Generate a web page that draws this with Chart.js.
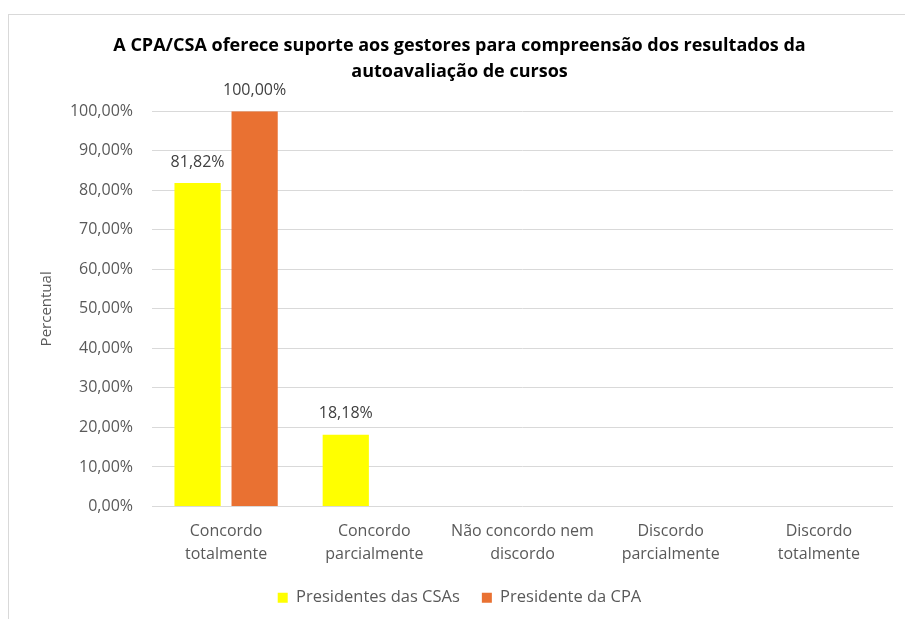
<!DOCTYPE html>
<html>
<head>
<meta charset="utf-8">
<script src="https://cdn.jsdelivr.net/npm/chart.js@4/dist/chart.umd.min.js"></script>
<style>
    body { margin: 0; background: #fff; }
    #frame { position: absolute; left: 8px; top: 14px; width: 1000px; height: 1000px; border: 1px solid #d9d9d9; }
    #wrap { position: absolute; left: 0; top: 0; width: 905px; height: 619px; }
</style>
</head>
<body>
<div id="frame"></div>
<div id="wrap"><canvas id="chart"></canvas></div>
<script>
var categories = [
    ["Concordo", "totalmente"],
    ["Concordo", "parcialmente"],
    ["Não concordo nem", "discordo"],
    ["Discordo", "parcialmente"],
    ["Discordo", "totalmente"]
];
var presidentesCSAs = [81.82, 18.18, 0, 0, 0];
var presidenteCPA = [100, 0, 0, 0, 0];
var seriesNames = ["Presidentes das CSAs", "Presidente da CPA"];
var titleLines = ["A CPA/CSA oferece suporte aos gestores para compreensão dos resultados da", "autoavaliação de cursos"];

var FONT = "'Open Sans', 'Liberation Sans', sans-serif";
var GREY = "#595959";

function pct(v) {
    return v.toFixed(2).replace(".", ",") + "%";
}

// labels above the bars, skipping zeros
var barLabels = {
    id: "barLabels",
    afterDatasetsDraw: function(chart) {
        var ctx = chart.ctx;
        ctx.save();
        ctx.font = "16px " + FONT;
        ctx.fillStyle = "#404040";
        ctx.textAlign = "center";
        ctx.textBaseline = "middle";
        chart.data.datasets.forEach(function(ds, i) {
            chart.getDatasetMeta(i).data.forEach(function(bar, j) {
                if (!ds.data[j]) return;
                ctx.fillText(pct(ds.data[j]), bar.x, bar.y - 21);
            });
        });
        ctx.restore();
    }
};

new Chart(document.getElementById("chart"), {
    type: "bar",
    data: {
        labels: categories,
        datasets: [
            { label: seriesNames[0], data: presidentesCSAs, backgroundColor: "#FFFF00" },
            { label: seriesNames[1], data: presidenteCPA, backgroundColor: "#E97132" }
        ]
    },
    options: {
        responsive: true,
        maintainAspectRatio: false,
        animation: false,
        categoryPercentage: 0.77,
        barPercentage: 0.81,
        layout: { padding: { top: 0, right: 12, bottom: 3, left: 26 } },
        plugins: {
            title: {
                display: true,
                text: titleLines,
                color: "#000",
                font: { family: FONT, size: 18, weight: "bold", lineHeight: 1.45 },
                padding: { top: 33, bottom: 26 }
            },
            legend: {
                position: "bottom",
                labels: {
                    color: GREY,
                    font: { family: FONT, size: 16.5 },
                    boxWidth: 10,
                    boxHeight: 10,
                    padding: 22
                }
            },
            tooltip: { enabled: false }
        },
        scales: {
            x: {
                grid: { display: false },
                border: { display: false },
                ticks: {
                    color: GREY,
                    font: { family: FONT, size: 16, lineHeight: 1.45 },
                    maxRotation: 0,
                    padding: 5
                },
                afterFit: function(scale) { scale.height = 61; }
            },
            y: {
                min: 0,
                max: 100,
                grid: { color: "#d9d9d9", drawTicks: false },
                border: { display: false },
                ticks: {
                    stepSize: 10,
                    color: GREY,
                    font: { family: FONT, size: 16 },
                    padding: 19,
                    callback: function(v) { return pct(v); }
                },
                title: {
                    display: true,
                    text: "Percentual",
                    color: GREY,
                    font: { family: FONT, size: 15 },
                    padding: { top: 12, bottom: 0 }
                },
                afterFit: function(scale) { scale.width = 126; }
            }
        }
    },
    plugins: [barLabels]
});
</script>
</body>
</html>
